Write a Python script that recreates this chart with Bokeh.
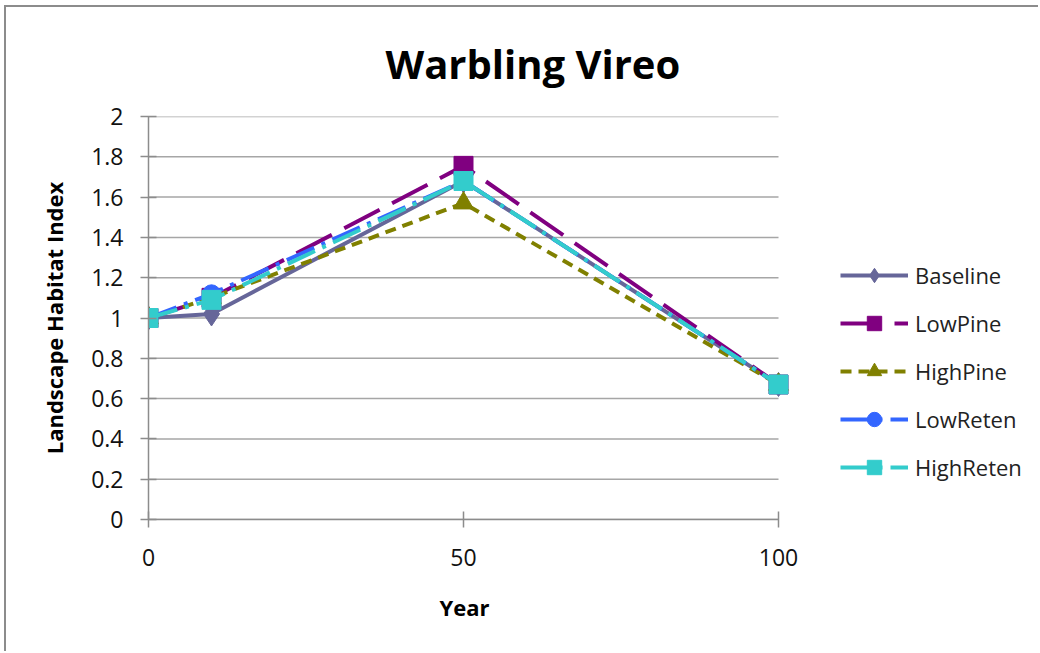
from bokeh.plotting import figure
from bokeh.models import Range1d, FixedTicker, Legend, LegendItem, Title
from bokeh.embed import file_html
from bokeh.resources import INLINE

years = [0, 10, 50, 100]
baseline = [1.0, 1.02, 1.68, 0.67]
lowpine = [1.0, 1.10, 1.755, 0.67]
highpine = [1.0, 1.10, 1.57, 0.67]
lowreten = [1.0, 1.12, 1.68, 0.67]
highreten = [1.0, 1.09, 1.68, 0.67]
series_names = ["Baseline", "LowPine", "HighPine", "LowReten", "HighReten"]
y_ticks = [0, 0.2, 0.4, 0.6, 0.8, 1.0, 1.2, 1.4, 1.6, 1.8, 2.0]
y_tick_labels = ["0", "0.2", "0.4", "0.6", "0.8", "1", "1.2", "1.4", "1.6", "1.8", "2"]
x_ticks = [0, 50, 100]

FONT = "Open Sans"

# layout (pixels)
W, H = 1034, 646
BL, BR, BT, BB = 142, 5, 108, 134
DATA_W = 630  # width of the data area (x 0..100)
frame_w = W - BL - BR
x_end = x_ticks[-1] * frame_w / DATA_W

p = figure(width=W, height=H, output_backend="svg", toolbar_location=None,
           x_range=Range1d(0, x_end), y_range=Range1d(0, 2),
           min_border_left=BL, min_border_right=BR, min_border_top=BT, min_border_bottom=BB,
           margin=(7, 0, 0, 6))
p.styles = {"box-shadow": "-2px -2px 0px 0px #8c8c8c"}

p.title.text = "Warbling Vireo"
p.title.text_font = FONT
p.title.text_font_size = "40px"
p.title.text_font_style = "bold"
p.title.align = "left"
p.title.offset = 237
p.title.standoff = 52
p.title.text_color = "#000000"

p.outline_line_color = None
p.background_fill_color = "white"
p.border_fill_color = "white"

p.xgrid.grid_line_color = None
p.ygrid.grid_line_color = None
# horizontal gridlines limited to the data area
p.segment(x0=[x_ticks[0]] * len(y_ticks), x1=[x_ticks[-1]] * len(y_ticks), y0=y_ticks, y1=y_ticks,
          line_color="#a6a6a6", line_width=1.5)

p.yaxis.ticker = FixedTicker(ticks=y_ticks)
p.yaxis.major_label_overrides = {t: l for t, l in zip(y_ticks, y_tick_labels)}
p.xaxis.ticker = FixedTicker(ticks=x_ticks)
p.xaxis.bounds = (x_ticks[0], x_ticks[-1])
for ax in (p.xaxis, p.yaxis):
    ax.axis_line_color = "#8c8c8c"
    ax.axis_line_width = 1.5
    ax.major_tick_line_color = "#8c8c8c"
    ax.major_tick_line_width = 1.5
    ax.major_tick_out = 8
    ax.major_tick_in = 8
    ax.minor_tick_line_color = None
    ax.major_label_text_font = FONT
    ax.major_label_text_font_size = "23px"
    ax.major_label_text_color = "#111111"
    ax.axis_label_text_font = FONT
    ax.axis_label_text_font_size = "22px"
    ax.axis_label_text_font_style = "bold"
    ax.axis_label_text_color = "#000000"
p.yaxis.axis_label = "Landscape Habitat Index"
p.xaxis.major_label_standoff = 21
p.yaxis.major_label_standoff = 17
p.yaxis.axis_label_standoff = 19

# x-axis title centred under the data area
xtitle = Title(text="Year", align="left", offset=291, standoff=42, text_font=FONT,
               text_font_size="22px", text_font_style="bold", text_color="#000000")
p.add_layout(xtitle, "below")

specs = [
    (baseline, "#666699", "solid", "diamond", 24),
    (lowpine, "#800080", "40 14", "square", 19),
    (highpine, "#808000", "11 7", "triangle", 20),
    (lowreten, "#3366ff", "30 8 4 8", "circle", 18),
    (highreten, "#33cccc", "30 8 4 8", "square", 19),
]
items = []
for name, (vals, col, dash, mk, sz) in zip(series_names, specs):
    l = p.line(years, vals, line_color=col, line_width=4, line_dash=dash)
    m = p.scatter(years, vals, marker=mk, size=sz, fill_color=col, line_color=col)
    items.append(LegendItem(label=name, renderers=[l, m]))

legend = Legend(items=items, location=(692, 34), glyph_width=68, glyph_height=36,
                spacing=12, label_text_font=FONT, label_text_font_size="22px",
                label_text_color="#222222", border_line_color=None,
                background_fill_alpha=0, padding=0, margin=0, label_standoff=7)
p.add_layout(legend, "center")

open("out.html", "w").write(file_html(p, INLINE))
